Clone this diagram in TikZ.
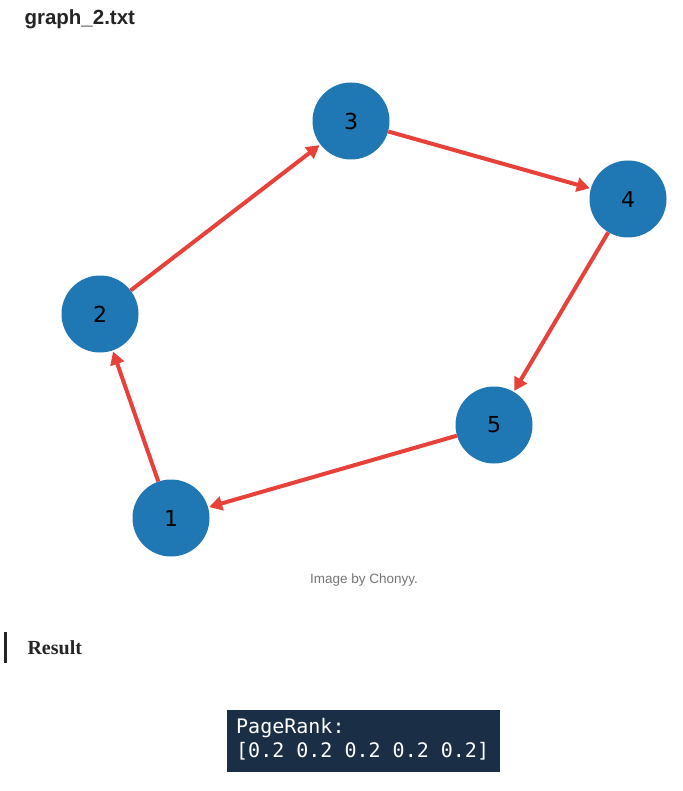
\documentclass[tikz,border=0pt]{standalone}
\usepackage{fontspec}
\setmainfont{Liberation Serif}
\newfontfamily\titlefont{Liberation Sans}
\newfontfamily\nodefont{DejaVu Sans}
\newfontfamily\codefont{DejaVu Sans Mono}
\usetikzlibrary{arrows.meta}
\definecolor{nodeblue}{HTML}{1F77B4}
\definecolor{edgered}{HTML}{E8413A}
\definecolor{codebg}{HTML}{1A2E45}
\definecolor{captgray}{HTML}{757575}
\definecolor{darktext}{HTML}{242424}
\tikzset{
  gnode/.style={circle,fill=nodeblue,minimum size=77pt,inner sep=0pt,font=\nodefont\fontsize{22}{24}\selectfont,text=black},
  gedge/.style={draw=edgered,line width=4pt,-{Triangle[length=13pt,width=14pt]},shorten >=1pt},
  codetext/.style={anchor=base west,inner sep=0pt,font=\codefont\fontsize{20}{24}\selectfont,text=white}
}
\begin{document}
\begin{tikzpicture}[x=1pt,y=-1pt]
\useasboundingbox (0,0) rectangle (682,791);
\fill[white] (0,0) rectangle (682,791);
\node[anchor=west,font=\titlefont\bfseries\fontsize{20.5}{22}\selectfont,text=darktext] (title) at (21,19) {graph\_2.txt};
\node[gnode] (n1) at (171,518) {1};
\node[gnode] (n2) at (100,314) {2};
\node[gnode] (n3) at (351,121) {3};
\node[gnode] (n4) at (628,199) {4};
\node[gnode] (n5) at (494,425) {5};
\draw[gedge] (n1) -- (n2);
\draw[gedge] (n2) -- (n3);
\draw[gedge] (n3) -- (n4);
\draw[gedge] (n4) -- (n5);
\draw[gedge] (n5) -- (n1);
\node[font=\titlefont\fontsize{13.5}{15}\selectfont,text=captgray] (cap) at (364,580) {Image by Chonyy.};
\fill[darktext] (4,632) rectangle (7,663);
\node[anchor=west,font=\bfseries\fontsize{20}{22}\selectfont,text=darktext] (res) at (24,648) {Result};
\fill[codebg] (227,710) rectangle (500,772);
\node[codetext] (code1) at (236,733) {PageRank:};
\node[codetext] (code2) at (236,757) {[0.2 0.2 0.2 0.2 0.2]};
\end{tikzpicture}
\end{document}
